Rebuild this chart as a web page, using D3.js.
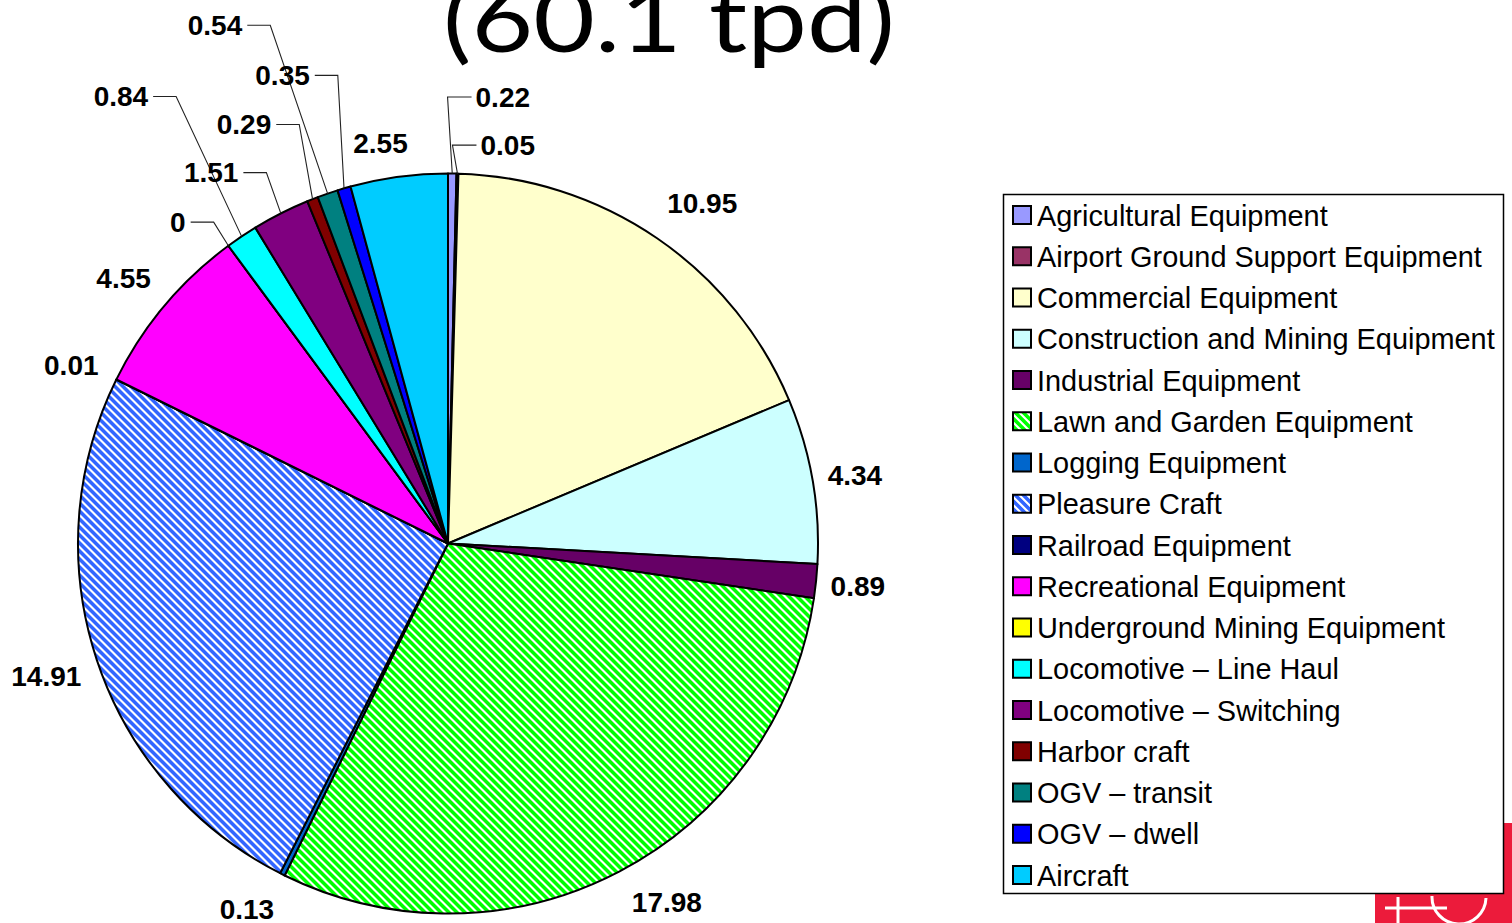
<!DOCTYPE html>
<html>
<head>
<meta charset="utf-8">
<script src="https://cdn.jsdelivr.net/npm/d3@7"></script>
<style>
  html, body { margin: 0; padding: 0; background: #fff; overflow: hidden; }
  svg { display: block; }
</style>
</head>
<body>
<svg id="chart" width="1512" height="923"></svg>
<script>
// ---------- DATA ----------
const categories = [
  "Agricultural Equipment",
  "Airport Ground Support Equipment",
  "Commercial Equipment",
  "Construction and Mining Equipment",
  "Industrial Equipment",
  "Lawn and Garden Equipment",
  "Logging Equipment",
  "Pleasure Craft",
  "Railroad Equipment",
  "Recreational Equipment",
  "Underground Mining Equipment",
  "Locomotive \u2013 Line Haul",
  "Locomotive \u2013 Switching",
  "Harbor craft",
  "OGV \u2013 transit",
  "OGV \u2013 dwell",
  "Aircraft"
];
const values = [0.22, 0.05, 10.95, 4.34, 0.89, 17.98, 0.13, 14.91, 0.01, 4.55, 0, 0.84, 1.51, 0.29, 0.54, 0.35, 2.55];
const valueLabels = ["0.22", "0.05", "10.95", "4.34", "0.89", "17.98", "0.13", "14.91", "0.01", "4.55", "0", "0.84", "1.51", "0.29", "0.54", "0.35", "2.55"];
const titleText = "(60.1 tpd)";

// ---------- STYLE / LAYOUT ----------
const colors = ["#9999FF", "#993366", "#FFFFCC", "#CCFFFF", "#660066", "pattern:#00FF00", "#0066CC",
  "pattern:#3366FF", "#000080", "#FF00FF", "#FFFF00", "#00FFFF", "#800080", "#800000", "#008080", "#0000FF", "#00CCFF"];
// label nudges relative to polar position, and leader side (0 none, -1 label left of slice, 1 label right)
const labelNudge = [[50,-28.5],[49,19.5],[18,5],[-5,3],[-6,0],[25,-11],[-14,-8],[-5,1],[-2,7],[-4,3],
  [-22,15],[-94,-100],[-48,2],[-51,-30],[-97,-123],[-48,-67],[-12,14]];
const leaderSide = [1,1,0,0,0,0,0,0,0,0,-1,-1,-1,-1,-1,-1,0];

const W = 1512, H = 923;
const cx = 448, cy = 543.5, R = 370, labelR = 418;

const svg = d3.select("#chart");
const defs = svg.append("defs");

// stripe patterns
function stripePattern(id, color) {
  const s = 8;
  const p = defs.append("pattern").attr("id", id)
    .attr("patternUnits", "userSpaceOnUse").attr("width", s).attr("height", s);
  p.append("rect").attr("width", s).attr("height", s).attr("fill", "#fff");
  p.append("path").attr("d", `M-2,-2 L${s+2},${s+2} M-2,${s-2} L2,${s+2} M${s-2},-2 L${s+2},2`)
    .attr("stroke", color).attr("stroke-width", 2.9).attr("fill", "none")
    .attr("shape-rendering", "crispEdges");
}
const fills = colors.map((c, i) => {
  if (c.startsWith("pattern:")) {
    const id = "pat" + i;
    stripePattern(id, c.slice(8));
    return "url(#" + id + ")";
  }
  return c;
});

// ---------- LOGO (behind legend) ----------
const logo = svg.append("g");
logo.append("rect").attr("x", 1375).attr("y", 823).attr("width", 137).attr("height", 100).attr("fill", "#EC1B3B");
logo.append("path").attr("d", "M1385,908 L1447,908 M1398,897 L1398,923")
  .attr("stroke", "#fff").attr("stroke-width", 3).attr("fill", "none");
logo.append("path").attr("d", "M1432,896 A26,26 0 0 0 1486,898")
  .attr("stroke", "#fff").attr("stroke-width", 3).attr("fill", "none");

// ---------- TITLE ----------
svg.append("text")
  .attr("x", 443).attr("y", 52)
  .attr("font-family", "'Lato', 'Open Sans', sans-serif")
  .attr("font-size", 92)
  .attr("font-weight", 400)
  .attr("textLength", 452)
  .attr("lengthAdjust", "spacingAndGlyphs")
  .attr("fill", "#000")
  .text(titleText);

// ---------- PIE ----------
const pie = d3.pie().sort(null).value(d => d).startAngle(0).endAngle(2 * Math.PI);
const arcs = pie(values);
const arc = d3.arc().innerRadius(0).outerRadius(R);
const edgeArc = d3.arc().innerRadius(R).outerRadius(R);

const g = svg.append("g").attr("transform", `translate(${cx},${cy})`);
g.selectAll("path.slice").data(arcs).join("path")
  .attr("class", "slice")
  .attr("d", arc)
  .attr("fill", (d, i) => fills[i])
  .attr("stroke", "#000")
  .attr("stroke-width", 2)
  .attr("stroke-linejoin", "round");

// ---------- DATA LABELS ----------
const lg = svg.append("g");
arcs.forEach((d, i) => {
  const a = (d.startAngle + d.endAngle) / 2;
  const px = cx + labelR * Math.sin(a) + labelNudge[i][0];
  const py = cy - labelR * Math.cos(a) + labelNudge[i][1];
  const t = lg.append("text")
    .attr("x", px).attr("y", py)
    .attr("text-anchor", "middle")
    .attr("dominant-baseline", "central")
    .attr("font-family", "'Liberation Sans', Arial, sans-serif")
    .attr("font-weight", "bold")
    .attr("font-size", 28)
    .attr("fill", "#000")
    .text(valueLabels[i]);
  if (leaderSide[i] !== 0) {
    const w = t.node().getComputedTextLength();
    const e = edgeArc.centroid(d);
    const ex = cx + e[0], ey = cy + e[1];
    let x0, x1;
    if (leaderSide[i] < 0) { x0 = px + w / 2 + 5; x1 = x0 + 23; }
    else { x0 = px - w / 2 - 4; x1 = x0 - 24; }
    lg.append("path")
      .attr("d", `M${x0},${py} L${x1},${py} L${ex},${ey}`)
      .attr("fill", "none").attr("stroke", "#222").attr("stroke-width", 1.1);
  }
});

// ---------- LEGEND ----------
const legend = svg.append("g");
legend.append("rect")
  .attr("x", 1003.5).attr("y", 194.5).attr("width", 500).attr("height", 699)
  .attr("fill", "#fff").attr("stroke", "#000").attr("stroke-width", 1.5);
const rowY = d3.scalePoint().domain(d3.range(categories.length)).range([215, 875]);
const items = legend.selectAll("g.item").data(categories).join("g").attr("class", "item")
  .attr("transform", (d, i) => `translate(0,${rowY(i)})`);
items.append("rect")
  .attr("x", 1013).attr("y", -9).attr("width", 18).attr("height", 18)
  .attr("fill", (d, i) => fills[i]).attr("stroke", "#000").attr("stroke-width", 2);
items.append("text")
  .attr("x", 1037).attr("y", 10.5)
  .attr("font-family", "'Liberation Sans', Arial, sans-serif")
  .attr("font-size", 28.9)
  .attr("fill", "#000")
  .text(d => d);
</script>
</body>
</html>
